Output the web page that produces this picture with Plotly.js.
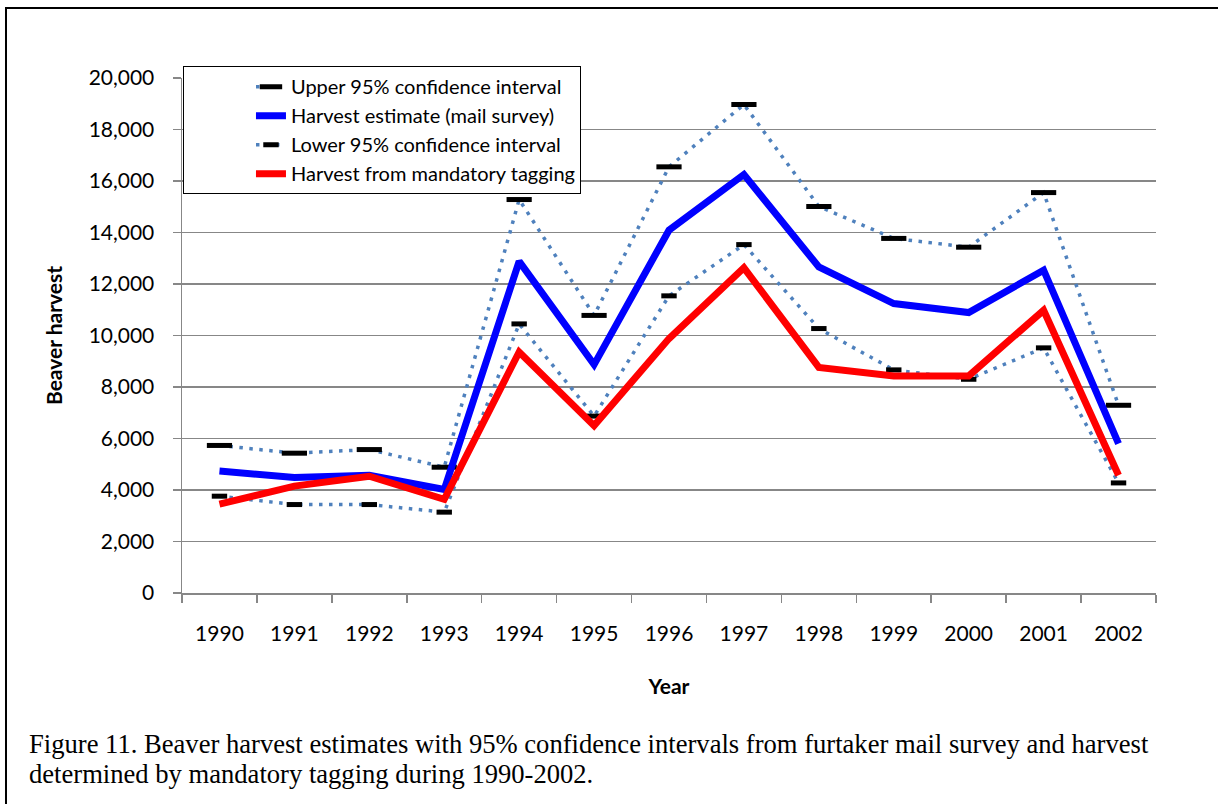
<!DOCTYPE html>
<html>
<head>
<meta charset="utf-8">
<script src="https://cdn.plot.ly/plotly-3.0.1.min.js"></script>
<style>html,body{margin:0;padding:0;background:#fff;}#chart{width:1218px;height:804px;}</style>
</head>
<body>
<div id="chart"></div>
<script>
const years = ['1990','1991','1992','1993','1994','1995','1996','1997','1998','1999','2000','2001','2002'];
const upperCI = [5730, 5430, 5570, 4885, 15280, 10780, 16550, 18970, 15010, 13770, 13430, 15550, 7290];
const harvestEstimate = [4740, 4485, 4575, 4020, 12880, 8870, 14090, 16250, 12660, 11240, 10890, 12535, 5805];
const lowerCI = [3760, 3435, 3435, 3140, 10450, 6870, 11540, 13530, 10270, 8665, 8300, 9520, 4275];
const taggingHarvest = [3450, 4150, 4535, 3640, 9360, 6500, 9880, 12630, 8760, 8430, 8430, 10980, 4570];
const seriesNames = ['Upper 95% confidence interval','Harvest estimate (mail survey)','Lower 95% confidence interval','Harvest from mandatory tagging'];
const captionLines = ['Figure 11. Beaver harvest estimates with 95% confidence intervals from furtaker mail survey and harvest',
                      'determined by mandatory tagging during 1990-2002.'];

const dotColor = '#4F81BD';
const traces = [
  {x: years, y: upperCI, name: seriesNames[0], mode: 'lines+markers',
   line: {color: dotColor, width: 3.5, dash: '3.5px,6.5px'},
   marker: {symbol: 'line-ew', size: 18, color: '#000', line: {color: '#000', width: 5}}},
  {x: years, y: harvestEstimate, name: seriesNames[1], mode: 'lines',
   line: {color: '#0000FF', width: 7}},
  {x: years, y: lowerCI, name: seriesNames[2], mode: 'lines+markers',
   line: {color: dotColor, width: 3.5, dash: '3.5px,6.5px'},
   marker: {symbol: 'line-ew', size: 11, color: '#000', line: {color: '#000', width: 5}}},
  {x: years, y: taggingHarvest, name: seriesNames[3], mode: 'lines',
   line: {color: '#FF0000', width: 7}}
];

const gray = '#878787';
const captionFont = {family: '"Liberation Serif", "Times New Roman", serif', size: 26.6, color: '#000'};
const layout = {
  width: 1218, height: 804,
  margin: {l: 182, r: 62, t: 78, b: 211},
  paper_bgcolor: '#fff', plot_bgcolor: '#fff',
  font: {family: 'Lato, sans-serif', color: '#000', size: 21},
  showlegend: true,
  legend: {x: 0.001, y: 1.023, xanchor: 'left', yanchor: 'top',
    bgcolor: '#fff', bordercolor: '#000', borderwidth: 1,
    font: {family: 'Lato, sans-serif', size: 20, color: '#000'},
    indentation: 67, tracegroupgap: 0, entrywidth: 310, entrywidthmode: 'pixels'},
  xaxis: {type: 'category', range: [-0.5, 12.5], tickson: 'boundaries', ticks: 'outside', ticklen: 8,
    tickcolor: gray, tickwidth: 1.5, showline: true, linecolor: gray, linewidth: 1.5,
    showgrid: false, zeroline: false, ticklabelstandoff: 21,
    tickfont: {family: 'Lato, sans-serif', size: 21, color: '#000'},
    title: {text: 'Year', font: {family: 'Lato, sans-serif', size: 21, color: '#000', weight: 'bold'}, standoff: 35}},
  yaxis: {range: [0, 20000], dtick: 2000, tickformat: ',d', ticks: 'outside', ticklen: 8,
    tickcolor: gray, tickwidth: 1.5, showline: true, linecolor: gray, linewidth: 1.5,
    showgrid: true, gridcolor: gray, gridwidth: 1.5, zeroline: false, ticklabelstandoff: 14,
    tickfont: {family: 'Lato, sans-serif', size: 21, color: '#000'},
    title: {text: 'Beaver harvest', font: {family: 'Lato, sans-serif', size: 21, color: '#000', weight: 'bold'}, standoff: 20}},
  annotations: [
    {text: captionLines[0], showarrow: false, xref: 'paper', yref: 'paper',
     x: -0.1591, y: -0.2602, xanchor: 'left', yanchor: 'top', align: 'left', font: captionFont},
    {text: captionLines[1], showarrow: false, xref: 'paper', yref: 'paper',
     x: -0.1591, y: -0.319, xanchor: 'left', yanchor: 'top', align: 'left', font: captionFont}
  ],
  shapes: [{type: 'rect', xref: 'paper', yref: 'paper',
    x0: -0.1807, x1: 1.07, y0: -0.43, y1: 1.1359,
    line: {color: '#000', width: 2}, fillcolor: 'rgba(0,0,0,0)', layer: 'below'}]
};

Plotly.newPlot('chart', traces, layout, {displayModeBar: false, staticPlot: true});
</script>
</body>
</html>
